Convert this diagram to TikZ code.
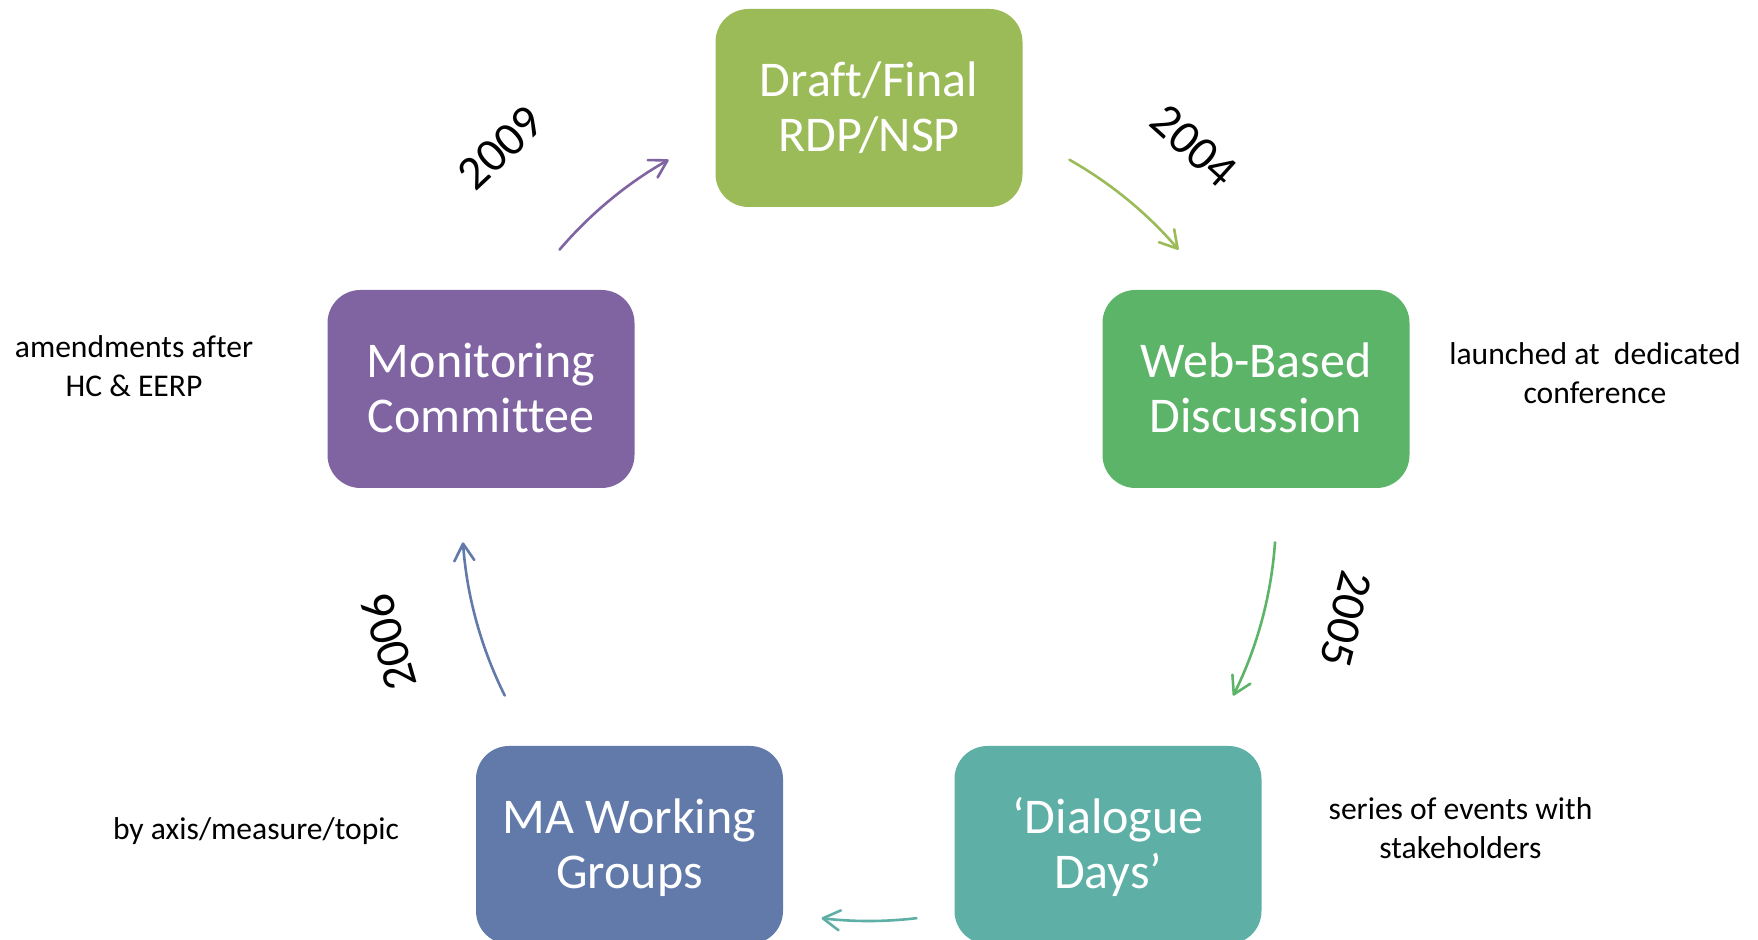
\documentclass[tikz,border=0pt]{standalone}
\usepackage{fontspec}
\setmainfont[Ligatures=NoCommon]{Carlito}
\usetikzlibrary{arrows.meta,calc}
\definecolor{cDraft}{RGB}{155,187,89}
\definecolor{cWeb}{RGB}{92,180,104}
\definecolor{cDia}{RGB}{94,175,166}
\definecolor{cMA}{RGB}{98,122,169}
\definecolor{cMon}{RGB}{128,100,162}
\newcommand\boxtext[2]{\begin{tabular}[t]{@{}c@{}}\rule{0pt}{24.25pt}#1\\#2\end{tabular}}
\newcommand\sidetext[2]{\begin{tabular}[t]{@{}c@{}}#1\\#2\end{tabular}}
\begin{document}
\begin{tikzpicture}[x=0.5pt,y=0.5pt,
  stepbox/.style={rounded corners=16.5pt, minimum width=153.5pt, minimum height=99pt, inner sep=0pt, text=white, font=\fontsize{25}{27.5}\selectfont},
  side/.style={anchor=base, inner sep=0pt, font=\fontsize{15.8}{19.25}\selectfont},
  year/.style={inner sep=0pt, font=\fontsize{24}{28}\selectfont},
  arr/.style={line width=1.3pt, line cap=round, -{Straight Barb[length=8.5pt,width=10pt,round]}}]
\useasboundingbox (0,0) rectangle (1758,940);
\clip (0,0) rectangle (1758,940);
\fill[white] (0,0) rectangle (1758,940);
% boxes
\node[stepbox, fill=cDraft] (draft) at (869,832) {\boxtext{Draft/Final}{RDP/NSP}};
\node[stepbox, fill=cWeb] (web) at (1256,551) {\boxtext{Web-Based}{Discussion}};
\node[stepbox, fill=cDia] (dia) at (1108,95) {\boxtext{‘Dialogue}{Days’}};
\node[stepbox, fill=cMA] (ma) at (629.5,95) {\boxtext{MA Working}{Groups}};
\node[stepbox, fill=cMon] (mon) at (481,551) {\boxtext{Monitoring}{Committee}};
% side notes
\node[side] (nmon) at (134,582) {\sidetext{amendments after}{HC \& EERP}};
\node[side] (nweb) at (1595,575) {\sidetext{launched at~ dedicated}{conference}};
\node[side] (nma) at (256,100) {by axis/measure/topic};
\node[side] (ndia) at (1460.5,120) {\sidetext{series of events with}{stakeholders}};
% arcs
\coordinate (C) at (869,426);
\coordinate (s1) at ($(C)+(139.5:407)$);
\coordinate (s2) at ($(C)+(60.5:407)$);
\coordinate (s3) at ($(C)+(-4:407)$);
\coordinate (s4) at ($(C)+(-83.3:407)$);
\coordinate (s5) at ($(C)+(206.5:407)$);
\draw[arr, cMon] (s1) arc[start angle=139.5, end angle=119.5, radius=407];
\draw[arr, cDraft] (s2) arc[start angle=60.5, end angle=40.5, radius=407];
\draw[arr, cWeb] (s3) arc[start angle=-4, end angle=-26.5, radius=407];
\draw[arr, cDia] (s4) arc[start angle=-83.3, end angle=-96.7, radius=407];
\draw[arr, cMA] (s5) arc[start angle=206.5, end angle=184, radius=407];
% years
\node[year, rotate=43] (y2009) at (500.5,792) {2009};
\node[year, rotate=-42] (y2004) at (1193.5,794) {2004};
\node[year, rotate=-104] (y2005) at (1346,321) {2005};
\node[year, rotate=106] (y2006) at (389,297.5) {2006};
\end{tikzpicture}
\end{document}
